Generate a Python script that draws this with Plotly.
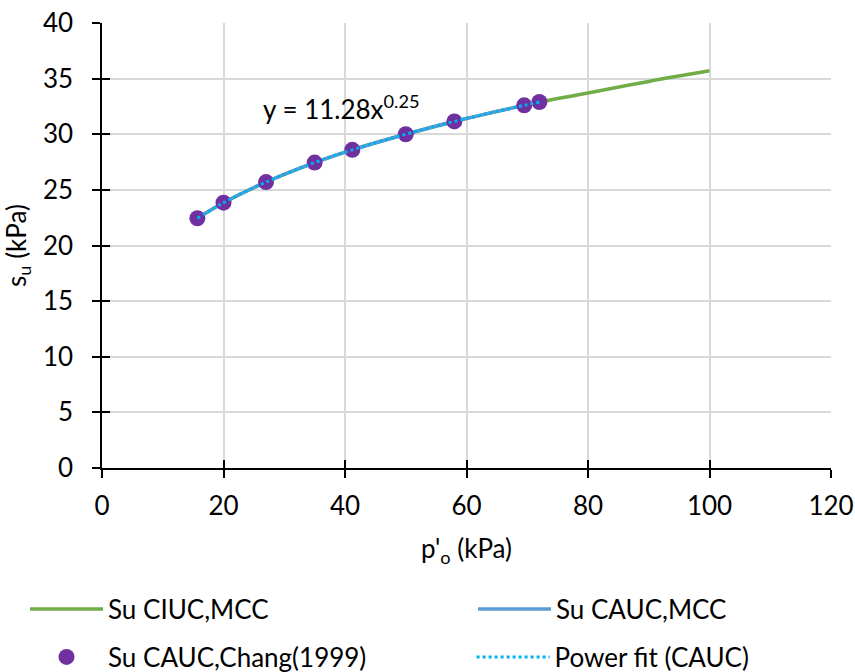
import plotly.graph_objects as go

# Data
chang_x = [15.7, 20.0, 27.0, 35.0, 41.2, 50.0, 58.0, 69.5, 72.0]
chang_y = [22.45, 23.85, 25.7, 27.45, 28.6, 30.0, 31.15, 32.6, 32.9]

ciuc_x = [15.7, 20.0, 27.0, 35.0, 41.2, 50.0, 58.0, 69.5, 72.0, 80.0, 90.0, 100.0]
ciuc_y = [22.45, 23.85, 25.7, 27.45, 28.6, 30.0, 31.15, 32.6, 32.9, 33.7, 34.75, 35.7]

cauc_x = [15.7, 20.0, 27.0, 35.0, 41.2, 50.0, 58.0, 69.5, 72.0]
cauc_y = [22.45, 23.85, 25.7, 27.45, 28.6, 30.0, 31.15, 32.6, 32.9]

fit_x = [15.7, 20.0, 27.0, 35.0, 41.2, 50.0, 58.0, 69.5, 72.0]
fit_y = [22.45, 23.85, 25.7, 27.45, 28.6, 30.0, 31.15, 32.6, 32.9]

x_ticks = [0, 20, 40, 60, 80, 100, 120]
y_ticks = [0, 5, 10, 15, 20, 25, 30, 35, 40]

FONT = "Lato"
FS = 26

fig = go.Figure()
fig.add_trace(go.Scatter(x=ciuc_x, y=ciuc_y, mode="lines", name="Su CIUC,MCC",
                         line=dict(color="#70AD47", width=3.5), line_shape="spline",
                         legend="legend"))
fig.add_trace(go.Scatter(x=cauc_x, y=cauc_y, mode="lines", name="Su CAUC,MCC",
                         line=dict(color="#5B9BD5", width=3.5), line_shape="spline",
                         legend="legend2"))
fig.add_trace(go.Scatter(x=chang_x, y=chang_y, mode="markers", name="Su CAUC,Chang(1999)",
                         marker=dict(color="#7030A0", size=16), legend="legend3"))
fig.add_trace(go.Scatter(x=fit_x, y=fit_y, mode="lines", name="Power fit (CAUC)",
                         line=dict(color="#00B0F0", width=3, dash="dot"), line_shape="spline",
                         legend="legend4"))
# dummy trace for overlay axes (inside tick marks)
fig.add_trace(go.Scatter(x=[None], y=[None], xaxis="x2", yaxis="y2",
                         showlegend=False, hoverinfo="skip", mode="markers"))

fig.add_annotation(x=39.5, y=32.4, text="y = 11.28x<sup>0.25</sup>", showarrow=False,
                   font=dict(size=FS, color="black", family=FONT))

axis_common = dict(showline=True, linecolor="black", linewidth=1.5,
                   ticks="outside", ticklen=8, tickwidth=1.5, tickcolor="black",
                   showgrid=True, gridcolor="#D9D9D9", gridwidth=1.5, zeroline=False,
                   automargin=False,
                   tickfont=dict(size=FS, family=FONT, color="black"))

legend_common = dict(orientation="h", xanchor="left", yanchor="middle",
                     itemwidth=73, font=dict(size=FS, family=FONT, color="black"),
                     bgcolor="rgba(0,0,0,0)", borderwidth=0)

fig.update_layout(
    width=855, height=672,
    margin=dict(l=102, r=24, t=23, b=204, autoexpand=False),
    plot_bgcolor="white", paper_bgcolor="white",
    font=dict(family=FONT, size=FS, color="black"),
    xaxis=dict(range=[0, 120], tickvals=x_ticks, ticklabelstandoff=6,
               title=dict(text="p'<sub>o</sub> (kPa)", font=dict(size=FS, family=FONT), standoff=20),
               **axis_common),
    yaxis=dict(range=[0, 40], tickvals=y_ticks, ticklabelstandoff=14,
               title=dict(text="s<sub>u</sub> (kPa)", font=dict(size=FS, family=FONT), standoff=12),
               **axis_common),
    xaxis2=dict(overlaying="x", anchor="y2", range=[0, 120], tickvals=x_ticks,
                ticks="inside", ticklen=8, tickwidth=1.5, tickcolor="black", automargin=False,
                showticklabels=False, showgrid=False, showline=False, zeroline=False),
    yaxis2=dict(overlaying="y", anchor="x2", range=[0, 40], tickvals=y_ticks,
                ticks="inside", ticklen=8, tickwidth=1.5, tickcolor="black", automargin=False,
                showticklabels=False, showgrid=False, showline=False, zeroline=False),
    legend=dict(x=-0.1056, y=-0.3169, **legend_common),
    legend2=dict(x=0.5089, y=-0.3169, **legend_common),
    legend3=dict(x=-0.1056, y=-0.4247, **legend_common),
    legend4=dict(x=0.5070, y=-0.4247, **legend_common),
    showlegend=True,
)

fig.write_html("out.html", post_script="document.body.style.margin='0px';",
               config={"displayModeBar": False})
